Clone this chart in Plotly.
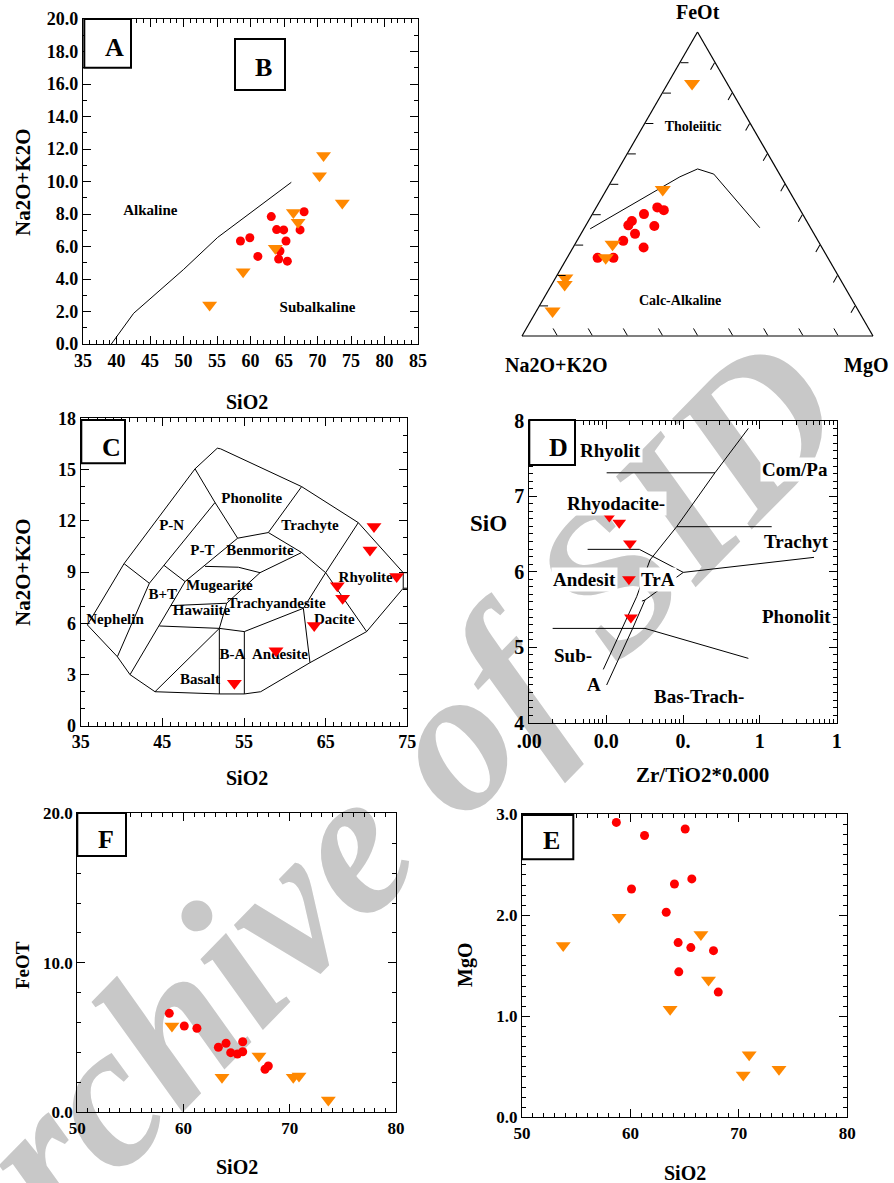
import math
import plotly.graph_objects as go

W, H = 894, 1183
FONT = "Liberation Serif"
RED = "#ff0000"
ORANGE = "#ff8800"
GREY = "#c8c8c8"

# ---------------- Panel A/B : SiO2 vs Na2O+K2O ----------------
A_red_sio2 = [58.5, 59.9, 61.1, 63.1, 63.9, 64.2, 64.4, 64.95, 65.3, 65.5, 67.4, 68.0]
A_red_alk = [6.34, 6.54, 5.39, 7.84, 7.04, 5.23, 5.72, 7.02, 6.34, 5.10, 7.02, 8.14]
A_or_sio2 = [53.9, 58.9, 63.7, 66.4, 67.1, 70.3, 70.9, 73.7]
A_or_alk = [2.4, 4.45, 5.9, 8.1, 7.5, 10.36, 11.6, 8.68]
A_bound_x = [39.23, 42.56, 50.02, 55.1, 66.09]
A_bound_y = [0.0, 1.89, 4.59, 6.56, 9.95]
A_labels = ["Alkaline", "Subalkaline"]
A_label_x = [45.05, 70.0]
A_label_y = [8.2, 2.19]

# ---------------- Ternary AFM ----------------
T_red_F = [0.257, 0.257, 0.313, 0.336, 0.291, 0.364, 0.378, 0.401, 0.362, 0.423, 0.414]
T_red_M = [0.087, 0.132, 0.132, 0.154, 0.201, 0.121, 0.124, 0.147, 0.196, 0.174, 0.197]
T_or_F = [0.831, 0.482, 0.302, 0.257, 0.191, 0.169, 0.082]
T_or_M = [0.069, 0.160, 0.107, 0.110, 0.028, 0.037, 0.046]
T_bound_F = [0.3525, 0.5236, 0.5495, 0.5327, 0.356]
T_bound_M = [0.018, 0.188, 0.2255, 0.280, 0.4996]
T_labels = ["Tholeiitic", "Calc-Alkaline"]
T_label_F = [0.687, 0.113]
T_label_M = [0.144, 0.394]

# ---------------- Panel C : TAS ----------------
C_sio2 = [70.92, 70.43, 73.7, 66.43, 67.08, 63.6, 58.92, 53.82]
C_alk = [11.66, 10.29, 8.73, 8.2, 7.46, 5.86, 4.39, 2.48]
C_lines = [
    [(35.82, 5.90), (40.31, 9.49), (49.0, 15.04), (51.73, 16.25), (52.14, 16.21), (62.06, 14.0),
     (69.0, 11.89), (74.5, 8.96), (74.5, 8.05), (70.02, 5.51), (63.08, 3.69), (57.04, 1.99),
     (55.04, 1.86), (51.98, 1.86), (44.1, 1.99), (41.04, 2.99), (39.49, 4.04), (35.82, 5.90)],
    [(74.5, 8.96), (75.0, 8.96)],
    [(74.5, 8.05), (75.0, 8.05)],
    [(40.31, 9.49), (43.41, 8.34), (39.49, 4.04)],
    [(49.0, 15.04), (51.45, 13.07), (54.22, 10.98)],
    [(51.45, 13.07), (45.20, 9.39), (43.41, 8.34)],
    [(45.20, 9.39), (47.78, 8.44), (41.04, 2.99)],
    [(54.22, 10.98), (57.98, 11.31), (62.06, 14.0)],
    [(54.22, 10.98), (47.78, 8.44)],
    [(50.22, 9.33), (54.31, 9.28), (56.96, 8.96)],
    [(56.96, 8.96), (62.06, 10.14)],
    [(57.98, 11.31), (62.06, 10.14), (65.0, 8.96)],
    [(69.0, 11.89), (65.0, 8.96), (62.27, 6.875)],
    [(65.0, 8.96), (70.02, 5.51)],
    [(62.27, 6.875), (55.04, 5.51), (51.98, 5.70)],
    [(56.96, 8.96), (52.88, 7.17), (51.98, 5.70)],
    [(46.02, 7.03), (52.88, 7.17)],
    [(44.63, 5.84), (51.98, 5.70)],
    [(51.98, 5.70), (44.1, 1.99)],
    [(51.98, 5.70), (51.98, 1.86)],
    [(55.04, 5.51), (55.04, 1.86)],
    [(62.27, 6.875), (63.08, 3.69)],
]
C_labels = ["Phonolite", "P-N", "Trachyte", "P-T", "Benmorite", "Mugearite", "B+T", "Hawaiite",
            "Trachyandesite", "Nephelin", "Rhyolite", "Dacite", "B-A", "Andesite", "Basalt"]
C_label_x = [55.94, 46.14, 63.08, 49.9, 56.96, 51.98, 45.04, 49.8, 59.0, 39.2, 69.9, 66.06, 53.57, 59.4, 49.6]
C_label_y = [13.26, 11.66, 11.66, 10.2, 10.2, 8.18, 7.66, 6.68, 7.13, 6.15, 8.63, 6.15, 4.14, 4.14, 2.68]

# ---------------- Panel D : Zr/TiO2 vs SiO2 ----------------
D_zr = [0.0110, 0.0148, 0.0204, 0.0198, 0.0210]
D_si = [6.73, 6.65, 6.375, 5.90, 5.395]
D_lines = [
    [(0.01015, 7.31), (0.2609, 7.31)],
    [(0.708, 7.898), (0.2609, 7.311), (0.0827, 6.596), (0.0372, 6.155), (0.02495, 5.669),
     (0.01592, 5.227), (0.00918, 4.706)],
    [(0.0827, 6.596), (1.426, 6.596)],
    [(0.00574, 6.296), (0.02704, 6.296), (0.1009, 5.991), (5.07, 6.19)],
    [(0.1009, 5.991), (0.0320, 5.625), (0.0292, 5.611)],
    [(0.0320, 5.625), (0.02213, 5.249), (0.01015, 4.499)],
    [(0.002014, 5.249), (0.0320, 5.249), (0.708, 4.852)],
]
D_labels = ["Rhyolit", "Com/Pa", "Rhyodacite-", "Trachyt", "Andesit", "TrA", "Phonolit", "Sub-", "A", "Bas-Trach-"]
D_label_x = [0.01156, 2.87, 0.01343, 2.96, 0.0052, 0.0478, 2.96, 0.00374, 0.00695, 0.1614]
D_label_y = [7.61, 7.355, 6.905, 6.397, 5.898, 5.898, 5.413, 4.896, 4.508, 4.344]
D_tickvals = [0.001, 0.01, 0.1, 1, 10]
D_ticktext = [".00", "0.0", "0.", "1", "1"]

# ---------------- Panel F : SiO2 vs FeOT ----------------
F_red_sio2 = [58.66, 60.07, 61.26, 63.28, 64.0, 64.44, 65.07, 65.57, 65.57, 67.67, 67.98]
F_red_fe = [6.62, 5.77, 5.62, 4.35, 4.62, 3.99, 3.90, 4.05, 4.72, 2.88, 3.10]
F_or_sio2 = [53.86, 58.91, 63.62, 67.1, 70.33, 70.87, 73.63]
F_or_fe = [19.55, 5.77, 2.34, 3.77, 2.34, 2.43, 0.82]

# ---------------- Panel E : SiO2 vs MgO ----------------
E_red_sio2 = [58.7, 60.1, 61.3, 63.3, 64.06, 64.4, 64.46, 65.05, 65.57, 65.66, 67.66, 68.1]
E_red_mg = [2.92, 2.26, 2.79, 2.03, 2.31, 1.73, 1.44, 2.855, 1.68, 2.36, 1.65, 1.24]
E_or_sio2 = [53.8, 58.95, 63.66, 66.5, 67.2, 70.95, 70.4, 73.7]
E_or_mg = [1.70, 1.98, 1.07, 1.81, 1.36, 0.62, 0.42, 0.475]


def px(x):
    return x / W


def py(y):
    return 1 - y / H


def bfont(size, color="black"):
    return dict(family=FONT, size=size, color=color, weight="bold")


fig = go.Figure()

# ---- A traces
fig.add_trace(go.Scatter(x=A_bound_x, y=A_bound_y, mode="lines", line=dict(color="black", width=1),
                         xaxis="x", yaxis="y", showlegend=False, hoverinfo="skip"))
fig.add_trace(go.Scatter(x=A_label_x, y=A_label_y, text=A_labels, mode="text", textfont=bfont(15),
                         xaxis="x", yaxis="y", showlegend=False))
fig.add_trace(go.Scatter(x=A_red_sio2, y=A_red_alk, mode="markers",
                         marker=dict(symbol="circle", size=9, color=RED), xaxis="x", yaxis="y", showlegend=False))
fig.add_trace(go.Scatter(x=A_or_sio2, y=A_or_alk, mode="markers",
                         marker=dict(symbol="triangle-down", size=13, color=ORANGE), xaxis="x", yaxis="y",
                         showlegend=False))

# ---- Ternary
T_bound_A = [1 - f - m for f, m in zip(T_bound_F, T_bound_M)]
fig.add_trace(go.Scatterternary(a=T_bound_F, b=T_bound_A, c=T_bound_M, mode="lines",
                                line=dict(color="black", width=1), showlegend=False, hoverinfo="skip"))
fig.add_trace(go.Scatterternary(a=T_label_F, b=[1 - f - m for f, m in zip(T_label_F, T_label_M)], c=T_label_M,
                                text=T_labels, mode="text", textfont=bfont(14), showlegend=False))
fig.add_trace(go.Scatterternary(a=T_red_F, b=[1 - f - m for f, m in zip(T_red_F, T_red_M)], c=T_red_M,
                                mode="markers", marker=dict(symbol="circle", size=10, color=RED), showlegend=False))
fig.add_trace(go.Scatterternary(a=T_or_F, b=[1 - f - m for f, m in zip(T_or_F, T_or_M)], c=T_or_M,
                                mode="markers", marker=dict(symbol="triangle-down", size=14, color=ORANGE),
                                showlegend=False))

# ---- C traces
for path in C_lines:
    fig.add_trace(go.Scatter(x=[p[0] for p in path], y=[p[1] for p in path], mode="lines",
                             line=dict(color="black", width=1), xaxis="x2", yaxis="y2", showlegend=False,
                             hoverinfo="skip"))
fig.add_trace(go.Scatter(x=C_label_x, y=C_label_y, text=C_labels, mode="text", textfont=bfont(15),
                         xaxis="x2", yaxis="y2", showlegend=False))
fig.add_trace(go.Scatter(x=C_sio2, y=C_alk, mode="markers",
                         marker=dict(symbol="triangle-down", size=13, color=RED), xaxis="x2", yaxis="y2",
                         showlegend=False))

# ---- D traces
for path in D_lines:
    fig.add_trace(go.Scatter(x=[p[0] for p in path], y=[p[1] for p in path], mode="lines",
                             line=dict(color="black", width=1), xaxis="x3", yaxis="y3", showlegend=False,
                             hoverinfo="skip"))
fig.add_trace(go.Scatter(x=D_zr, y=D_si, mode="markers",
                         marker=dict(symbol="triangle-down", size=12, color=RED), xaxis="x3", yaxis="y3",
                         showlegend=False))

# ---- F traces
fig.add_trace(go.Scatter(x=F_red_sio2, y=F_red_fe, mode="markers",
                         marker=dict(symbol="circle", size=9, color=RED), xaxis="x4", yaxis="y4", showlegend=False))
fig.add_trace(go.Scatter(x=F_or_sio2, y=F_or_fe, mode="markers",
                         marker=dict(symbol="triangle-down", size=13, color=ORANGE), xaxis="x4", yaxis="y4",
                         showlegend=False))

# ---- E traces
fig.add_trace(go.Scatter(x=E_red_sio2, y=E_red_mg, mode="markers",
                         marker=dict(symbol="circle", size=9, color=RED), xaxis="x5", yaxis="y5", showlegend=False))
fig.add_trace(go.Scatter(x=E_or_sio2, y=E_or_mg, mode="markers",
                         marker=dict(symbol="triangle-down", size=13, color=ORANGE), xaxis="x5", yaxis="y5",
                         showlegend=False))


def mk_axis(domain, rng, dtick, minor, size, anchor, fmt="", tick0=None, **kw):
    d = dict(domain=domain, range=rng, dtick=dtick, ticks="inside", ticklen=8, tickwidth=1, tickcolor="black",
             minor=dict(dtick=minor, ticks="inside", ticklen=4, tickwidth=1, tickcolor="black", showgrid=False),
             mirror="allticks", showline=True, linecolor="black", linewidth=1.2,
             showgrid=False, zeroline=False, anchor=anchor,
             tickfont=bfont(size), tickformat=fmt)
    if tick0 is not None:
        d["tick0"] = tick0
    d.update(kw)
    return d


layout = dict(
    width=W, height=H, margin=dict(l=0, r=0, t=0, b=0, pad=0, autoexpand=False),
    paper_bgcolor="white", plot_bgcolor="rgba(0,0,0,0)", showlegend=False,
    font=dict(family=FONT, color="black"),
    xaxis=mk_axis([px(83), px(418)], [35, 85], 5, 1, 18, "y", tick0=35),
    yaxis=mk_axis([py(344), py(19)], [0, 20], 2, 1, 18, "x", fmt=".1f"),
    xaxis2=mk_axis([px(80.7), px(407.3)], [35, 75], 10, 1, 18, "y2", tick0=35),
    yaxis2=mk_axis([py(725.7), py(418.3)], [0, 18], 3, 1, 18, "x2"),
    xaxis3=dict(domain=[px(529.3), px(836.7)], type="log", range=[-3, 1], tickmode="array",
                tickvals=D_tickvals, ticktext=D_ticktext, ticks="inside", ticklen=8, tickcolor="black",
                minor=dict(tickvals=[m * 10 ** e for e in range(-3, 1) for m in range(2, 10)],
                           ticks="inside", ticklen=4, tickcolor="black", showgrid=False),
                mirror="allticks", showline=True, linecolor="black", linewidth=1.2, showgrid=False,
                zeroline=False, anchor="y3", tickfont=bfont(20)),
    yaxis3=mk_axis([py(722.7), py(420.7)], [4, 8], 1, 0.1, 20, "x3"),
    xaxis4=mk_axis([px(77.3), px(396)], [50, 80], 10, 1, 17, "y4", tick0=50),
    yaxis4=mk_axis([py(1112.3), py(813.3)], [0, 20], 10, 2, 17, "x4", fmt=".1f"),
    xaxis5=mk_axis([px(522), px(847.3)], [50, 80], 10, 1, 17, "y5", tick0=50),
    yaxis5=mk_axis([py(1117.3), py(814.3)], [0, 3], 1, 0.1, 17, "x5", fmt=".1f"),
    ternary=dict(
        domain=dict(x=[px(522), px(873)], y=[py(336), py(32)]), sum=1, bgcolor="rgba(0,0,0,0)",
        aaxis=dict(showticklabels=False, ticks="inside", ticklen=8, dtick=0.1, showgrid=False,
                   linecolor="black", linewidth=1.2, tickcolor="black", title=dict(text="")),
        baxis=dict(showticklabels=False, ticks="inside", ticklen=8, dtick=0.1, showgrid=False,
                   linecolor="black", linewidth=1.2, tickcolor="black", title=dict(text="")),
        caxis=dict(showticklabels=False, ticks="inside", ticklen=8, dtick=0.1, showgrid=False,
                   linecolor="black", linewidth=1.2, tickcolor="black", title=dict(text="")),
    ),
)
fig.update_layout(**layout)

ann = []


def add_text(text, x, y, size, angle=0):
    ann.append(dict(text=text, x=px(x), y=py(y), xref="paper", yref="paper", showarrow=False,
                    font=bfont(size), textangle=angle, xanchor="center", yanchor="middle"))


# axis titles
add_text("SiO2", 247, 402, 20)
add_text("Na2O+K2O", 23, 182, 21, -90)
add_text("SiO2", 247, 778, 20)
add_text("Na2O+K2O", 23, 572, 21, -90)
add_text("SiO", 488, 524, 23)
add_text("Zr/TiO2*0.000", 702, 775, 21)
add_text("FeOT", 22, 965, 19, -90)
add_text("SiO2", 237, 1167, 20)
add_text("MgO", 465, 965, 20, -90)
add_text("SiO2", 685, 1173, 20)
add_text("FeOt", 697.7, 12, 20)
add_text("Na2O+K2O", 556.7, 365, 20)
add_text("MgO", 866, 365, 20)

# panel letters
for letter, (cx, cy) in zip(["A", "B", "C", "D", "F", "E"],
                            [(114, 47), (263.3, 67), (111.7, 447), (558.3, 447), (106, 839), (551.7, 841)]):
    add_text(letter, cx, cy, 26)

# D labels
for t, x, y in zip(D_labels, D_label_x, D_label_y):
    ann.append(dict(text=t, x=math.log10(x), y=y, xref="x3", yref="y3", showarrow=False,
                    font=bfont(19), bgcolor="white", xanchor="center", yanchor="middle"))

fig.update_layout(annotations=ann)

# letter boxes
boxes = [(84.3, 19, 131, 67.7), (235, 39, 285, 90), (81.3, 420, 125, 463.3), (529.3, 420, 575, 465),
         (77.3, 813, 126, 856), (522, 815, 573.3, 859.3)]
for x0, y0, x1, y1 in boxes:
    fig.add_shape(type="rect", xref="paper", yref="paper", x0=px(x0), x1=px(x1), y0=py(y1), y1=py(y0),
                  line=dict(color="black", width=2), fillcolor="white", layer="above")

# watermark
fig.add_shape(type="line", xref="paper", yref="paper", x0=px(-75), y0=py(1245), x1=px(765), y1=py(385),
              line=dict(color="rgba(0,0,0,0)", width=1), layer="below",
              label=dict(text="<i>Archive of SID</i>", textposition="middle", yanchor="middle",
                         font=dict(family=FONT, size=205, color=GREY, style="italic", weight="bold")))

fig.write_html("out.html", config={"displayModeBar": False},
               post_script="document.body.style.margin='0px';document.body.style.padding='0px';"
                           "document.body.style.overflow='hidden';")
